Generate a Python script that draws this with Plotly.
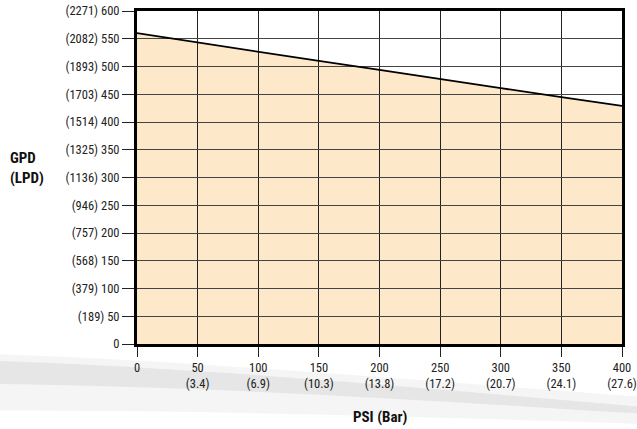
import plotly.graph_objects as go

psi = [0, 50, 100, 150, 200, 250, 300, 350, 400]
gpd = [560, 543, 527, 510, 494, 477, 461, 445, 429]

x_ticks = [0, 50, 100, 150, 200, 250, 300, 350, 400]
bar_labels = ["", "(3.4)", "(6.9)", "(10.3)", "(13.8)", "(17.2)", "(20.7)", "(24.1)", "(27.6)"]
y_ticks = [0, 50, 100, 150, 200, 250, 300, 350, 400, 450, 500, 550, 600]
lpd_labels = ["", "(189)", "(379)", "(568)", "(757)", "(946)", "(1136)", "(1325)", "(1514)",
              "(1703)", "(1893)", "(2082)", "(2271)"]

FONT = "Liberation Sans Narrow, Roboto Condensed, Arial Narrow, Liberation Sans, sans-serif"

x_text = [f"{v}<br>{b}" if b else f"{v}" for v, b in zip(x_ticks, bar_labels)]
y_text = [f"{l} {v}" if l else f"{v}" for v, l in zip(y_ticks, lpd_labels)]

fig = go.Figure()
fig.add_trace(go.Scatter(x=psi, y=gpd, mode="lines",
                         line=dict(color="black", width=1.8), hoverinfo="skip"))

shapes = []
# area fill below gridlines
path = f"M {psi[0]},0 " + " ".join(f"L {x},{y}" for x, y in zip(psi, gpd)) + f" L {psi[-1]},0 Z"
shapes.append(dict(type="path", path=path, xref="x", yref="y",
                   fillcolor="#FDE8CA", line=dict(width=0), layer="below"))
# background swoosh (soft gray bands)
shapes.append(dict(type="path", xref="paper", yref="paper",
                   path="M -0.3,-0.03 C 0.1,-0.05 0.5,-0.1 1.05,-0.16 L 1.05,-0.24 C 0.6,-0.22 0.2,-0.2 -0.3,-0.2 Z",
                   fillcolor="rgba(160,160,160,0.10)", line=dict(width=0), layer="below"))
shapes.append(dict(type="path", xref="paper", yref="paper",
                   path="M -0.3,-0.05 C 0.1,-0.07 0.5,-0.12 1.05,-0.19 L 1.05,-0.21 C 0.6,-0.17 0.2,-0.13 -0.3,-0.12 Z",
                   fillcolor="rgba(120,120,120,0.12)", line=dict(width=0), layer="below"))

fig.update_layout(
    width=637, height=429,
    margin=dict(l=137, r=15, t=11, b=85, autoexpand=False),
    paper_bgcolor="white", plot_bgcolor="white",
    showlegend=False,
    font=dict(family=FONT, size=12, color="#222"),
    shapes=shapes,
    xaxis=dict(range=[0, 400], tickvals=x_ticks, ticktext=x_text, automargin=False,
               showgrid=True, gridcolor="#222", gridwidth=1,
               showline=True, linecolor="black", linewidth=3, mirror=True,
               ticks="outside", ticklen=10, tickcolor="#222", tickwidth=1,
               zeroline=False, tickfont=dict(size=12.5)),
    yaxis=dict(range=[0, 600], tickvals=y_ticks, ticktext=y_text, automargin=False,
               showgrid=True, gridcolor="#444", gridwidth=1,
               showline=True, linecolor="black", linewidth=3, mirror=True,
               ticks="outside", ticklen=12, tickcolor="#222", tickwidth=1,
               zeroline=False, tickfont=dict(size=12.5)),
    annotations=[
        dict(text="<b>PSI (Bar)</b>", xref="paper", yref="paper", x=0.5, y=-0.09,
             xanchor="center", yanchor="top", showarrow=False,
             font=dict(family=FONT, size=15, color="#111"), yshift=-32),
        dict(text="<b>GPD<br>(LPD)</b>", xref="paper", yref="paper", x=-0.265, y=0.53,
             xanchor="left", yanchor="middle", showarrow=False, align="left",
             font=dict(family=FONT, size=15, color="#111")),
    ],
)

fig.write_html("out.html", config={"displayModeBar": False},
               post_script="document.body.style.margin='0';document.body.style.overflow='hidden';")
